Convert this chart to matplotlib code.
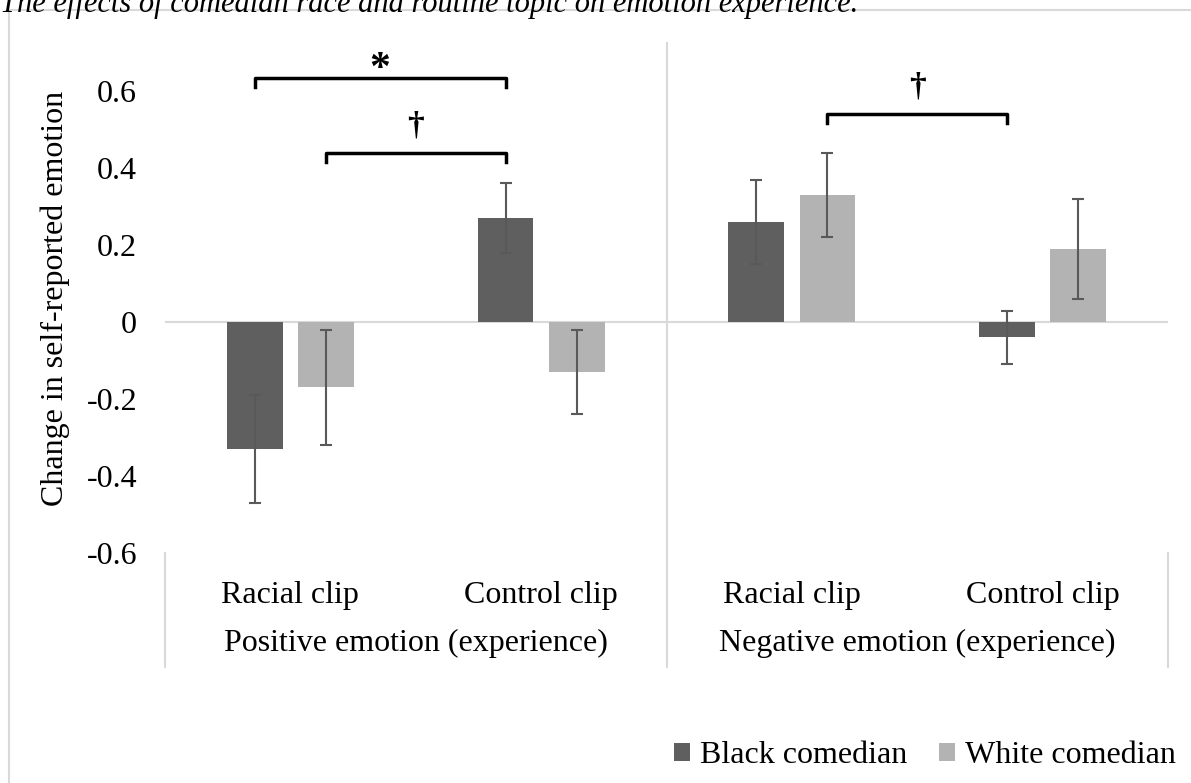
import numpy as np
import matplotlib
matplotlib.use("Agg")
import matplotlib.pyplot as plt
from matplotlib.patches import Rectangle

plt.rcParams['font.family'] = ['Liberation Serif', 'DejaVu Serif']

# data
clips = ['Racial clip', 'Control clip', 'Racial clip', 'Control clip']
groups = ['Positive emotion (experience)', 'Negative emotion (experience)']
black_vals = [-0.33, 0.27, 0.26, -0.04]
black_err = [0.14, 0.09, 0.11, 0.07]
white_vals = [-0.17, -0.13, 0.33, 0.19]
white_err = [0.15, 0.11, 0.11, 0.13]
yticks = [-0.6, -0.4, -0.2, 0, 0.2, 0.4, 0.6]
ytick_labels = ['-0.6', '-0.4', '-0.2', '0', '0.2', '0.4', '0.6']

FS = 23
W, H = 1191, 783
fig = plt.figure(figsize=(W / 100, H / 100), dpi=100)

# outer chart frame (cut off at right and bottom)
fig.patches.append(Rectangle((9 / W, -0.2), 1.2, 1 - 10 / H + 0.2,
                             transform=fig.transFigure, fill=False,
                             edgecolor='#d9d9d9', lw=1.5, clip_on=False))
fig.text(0.0, 1 - 12 / H,
         'The effects of comedian race and routine topic on emotion experience.',
         style='italic', fontsize=22, va='baseline', ha='left')

ax = fig.add_axes([165 / W, 1 - 553 / H, (1168 - 165) / W, (553 - 43) / H])
ax.set_xlim(-0.5, 3.5)
ax.set_ylim(-0.6, 0.725)
for s in ax.spines.values():
    s.set_visible(False)

x = np.arange(len(clips))
bw = 0.223
off = 0.142
ax.bar(x - off, black_vals, bw, color='#5f5f5f', label='Black comedian', zorder=2)
ax.bar(x + off, white_vals, bw, color='#b3b3b3', label='White comedian', zorder=2)
ax.errorbar(x - off, black_vals, yerr=black_err, fmt='none', ecolor='#595959',
            elinewidth=1.5, capsize=4.5, capthick=1.5, zorder=3)
ax.errorbar(x + off, white_vals, yerr=white_err, fmt='none', ecolor='#595959',
            elinewidth=1.5, capsize=4.5, capthick=1.5, zorder=3)

ax.axhline(0, color='#d9d9d9', lw=1.5, zorder=1)

# category separators
for xv in [-0.5, 1.5, 3.5]:
    top = 0.725 if xv == 1.5 else -0.6
    ax.plot([xv, xv], [top, -0.896], color='#d9d9d9', lw=1.5, clip_on=False, zorder=1)

ax.set_yticks(yticks)
ax.set_yticklabels(ytick_labels, fontsize=FS)
ax.tick_params(axis='y', length=0, pad=20)
ax.set_xticks([])
ax.set_ylabel('Change in self-reported emotion', fontsize=FS, labelpad=12)

for xi, lab in zip(x, clips):
    ax.text(xi, -0.71, lab, ha='center', va='center', fontsize=FS, clip_on=False)
for gi, lab in enumerate(groups):
    ax.text(0.5 + 2 * gi, -0.834, lab, ha='center', va='center', fontsize=FS, clip_on=False)

# significance brackets
def bracket(x1, x2, y, mark, ty, size, tick=0.024):
    ax.plot([x1, x1, x2, x2], [y - tick, y, y, y - tick], color='black', lw=2.5,
            clip_on=False, zorder=4)
    ax.text((x1 + x2) / 2, ty, mark, ha='center', va='center', fontsize=size,
            fontweight='bold', clip_on=False)

bracket(0 - off, 1 - off, 0.634, '*', 0.655, 30)
bracket(0 + off, 1 - off, 0.439, '†', 0.51, 24)
bracket(2 + off, 3 - off, 0.54, '†', 0.61, 24)

fig.legend(loc='lower right', bbox_to_anchor=(1.003, -0.008), ncol=2, frameon=False,
           fontsize=FS, handlelength=0.5, handleheight=0.5, handletextpad=0.3,
           columnspacing=1.0, borderaxespad=0.2)

fig.savefig('out.png', dpi=100)
